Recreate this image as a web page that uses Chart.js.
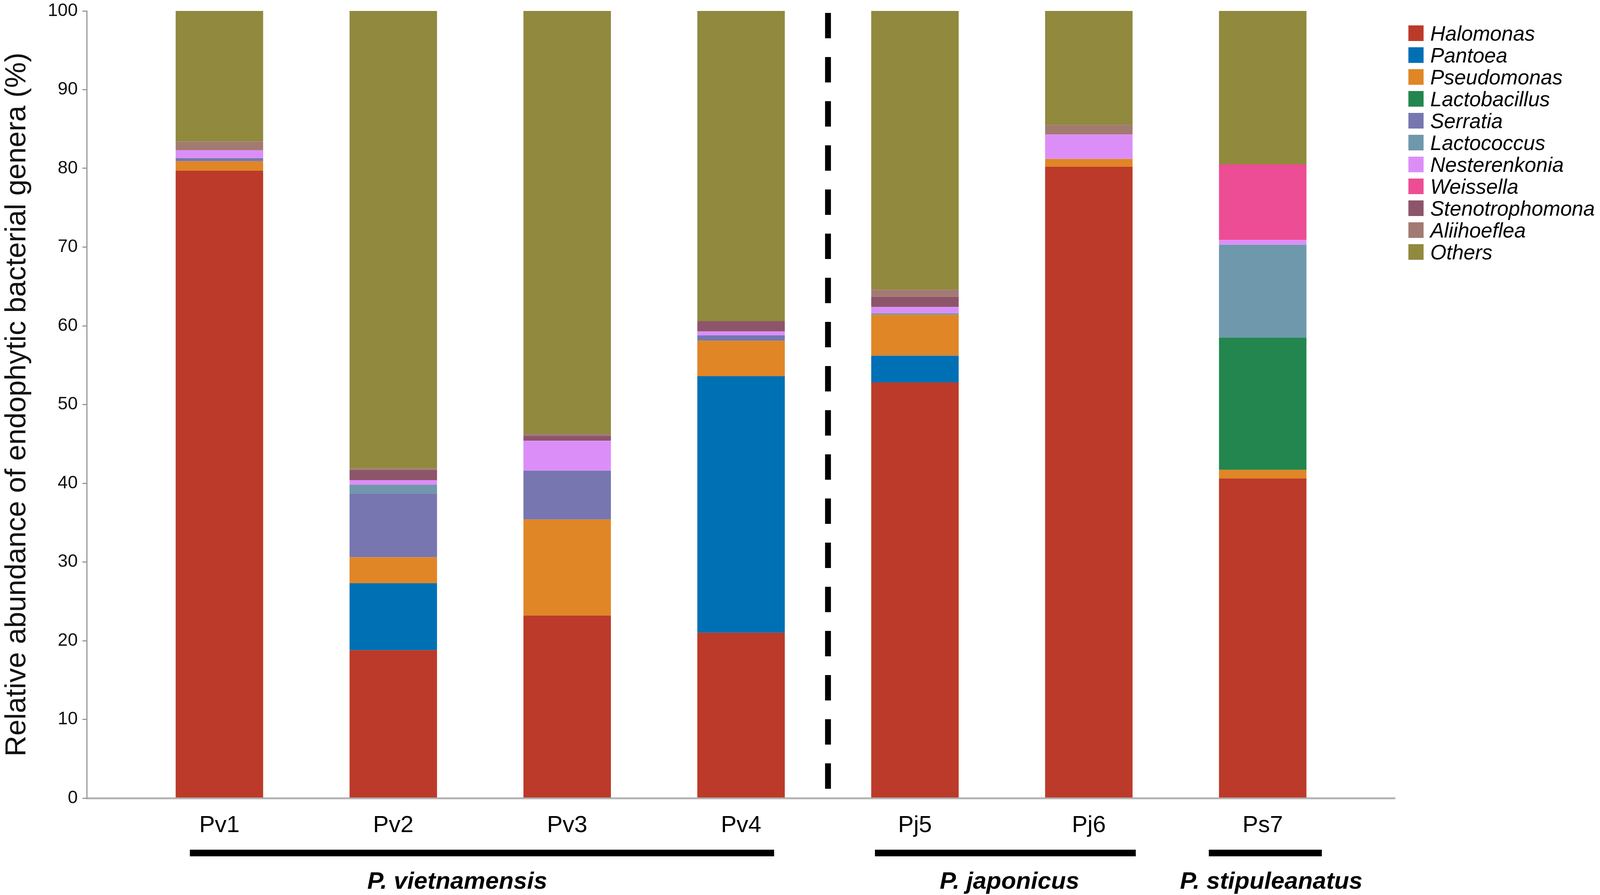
<!DOCTYPE html>
<html>
<head>
<meta charset="utf-8">
<script src="https://cdn.jsdelivr.net/npm/chart.js@4.4.1/dist/chart.umd.min.js"></script>
<style>
  html, body { margin: 0; padding: 0; background: #fff; overflow: hidden; }
  #wrap { width: 100vw; height: 100vh; }
</style>
</head>
<body>
<div id="wrap"><canvas id="myChart"></canvas></div>
<script>
var sampleLabels = ['Pv1', 'Pv2', 'Pv3', 'Pv4', 'Pj5', 'Pj6', 'Ps7'];

// relative abundance (%) per sample, bottom to top of each bar
var halomonas       = [79.7, 18.8, 23.2, 21.0, 52.8, 80.2, 40.6];
var pantoea         = [0,    8.5,  0,    32.6, 3.4,  0,    0];
var pseudomonas     = [1.2,  3.3,  12.2, 4.5,  5.2,  1.0,  1.1];
var lactobacillus   = [0,    0,    0,    0,    0,    0,    16.8];
var serratia        = [0.4,  8.1,  6.2,  0.7,  0,    0,    0];
var lactococcus     = [0,    1.1,  0,    0,    0.2,  0,    11.8];
var nesterenkonia   = [1.0,  0.6,  3.8,  0.5,  0.8,  3.1,  0.6];
var weissella       = [0,    0,    0,    0,    0,    0,    9.6];
var stenotrophomona = [0,    1.3,  0.6,  1.3,  1.3,  0,    0];
var aliihoeflea     = [1.1,  0.2,  0.3,  0,    0.9,  1.2,  0];
var others          = [16.6, 58.1, 53.7, 39.4, 35.4, 14.5, 19.5];

var genusNames = ['Halomonas', 'Pantoea', 'Pseudomonas', 'Lactobacillus', 'Serratia',
  'Lactococcus', 'Nesterenkonia', 'Weissella', 'Stenotrophomona', 'Aliihoeflea', 'Others'];
var genusValues = [halomonas, pantoea, pseudomonas, lactobacillus, serratia,
  lactococcus, nesterenkonia, weissella, stenotrophomona, aliihoeflea, others];
var genusColors = ['#bc3a29', '#0070b4', '#e08626', '#22864e', '#7776b0',
  '#6f98ac', '#dc8ef8', '#ec4d95', '#8c5569', '#a27a72', '#90893e'];

// host species groups under the x axis (indexes into sampleLabels)
var hostNames = ['P. vietnamensis', 'P. japonicus', 'P. stipuleanatus'];
var hostFirst = [0, 4, 6];
var hostLast  = [3, 5, 6];

var datasets = genusNames.map(function(name, k) {
  return {
    label: name,
    data: genusValues[k].map(function(v, i) { return { x: i + 1, y: v }; }),
    backgroundColor: genusColors[k],
    borderWidth: 0,
    barPercentage: 0.503,
    categoryPercentage: 1
  };
});

var FONT = '"Liberation Sans", Arial, sans-serif';

// layout was measured on a 4317px wide figure; scale horizontal sizes to the real width
function sx(chart) { return chart.width / 4317; }

// legend, dashed separator and species bars are drawn on top of the chart
var decorPlugin = {
  id: 'decor',
  afterDraw: function(chart) {
    var ctx = chart.ctx;
    var xs = chart.scales.x, ys = chart.scales.y;
    var k = sx(chart);
    ctx.save();

    // dashed separator between Pv4 and Pj5
    ctx.strokeStyle = '#000';
    ctx.lineWidth = 15;
    ctx.setLineDash([65, 48]);
    var dx = xs.getPixelForValue(4.5);
    ctx.beginPath();
    ctx.moveTo(dx, ys.getPixelForValue(100) + 5);
    ctx.lineTo(dx, ys.getPixelForValue(0));
    ctx.stroke();
    ctx.setLineDash([]);

    // species bars and names
    var padL = [0.17, 0.23, 0.31];
    var padR = [0.19, 0.27, 0.34];
    var nameAt = [2.368, 5.544, 7.049];
    ctx.fillStyle = '#000';
    ctx.font = 'italic bold 62px ' + FONT;
    ctx.textAlign = 'center';
    ctx.textBaseline = 'alphabetic';
    hostNames.forEach(function(name, g) {
      var x0 = xs.getPixelForValue(hostFirst[g] + 1 - padL[g]);
      var x1 = xs.getPixelForValue(hostLast[g] + 1 + padR[g]);
      ctx.fillRect(x0, 2175, x1 - x0, 17);
      ctx.fillText(name, xs.getPixelForValue(nameAt[g]), 2275);
    });

    // legend
    ctx.font = 'italic 53px ' + FONT;
    ctx.textAlign = 'left';
    chart.data.datasets.forEach(function(ds, i) {
      var cy = 85 + i * 56;
      ctx.fillStyle = ds.backgroundColor;
      ctx.fillRect(3800 * k, cy - 20, 41 * k, 40);
      ctx.fillStyle = '#000';
      ctx.fillText(ds.label, 3859 * k, cy + 19);
    });
    ctx.restore();
  }
};

var ctx = document.getElementById('myChart').getContext('2d');
var myChart = new Chart(ctx, {
  type: 'bar',
  data: { datasets: datasets },
  plugins: [decorPlugin],
  options: {
    responsive: true,
    maintainAspectRatio: false,
    devicePixelRatio: 1,
    animation: false,
    layout: {
      padding: function(c) {
        return { top: 28, right: c.chart.width - 3764 * sx(c.chart), left: 0, bottom: 0 };
      }
    },
    plugins: {
      legend: { display: false },
      tooltip: { enabled: false }
    },
    scales: {
      x: {
        type: 'linear',
        stacked: true,
        offset: false,
        min: 0.237,
        max: 7.761,
        afterFit: function(scale) { scale.height = 248; },
        afterBuildTicks: function(scale) {
          scale.ticks = sampleLabels.map(function(l, i) { return { value: i + 1 }; });
        },
        grid: { display: true, offset: false, drawOnChartArea: false, drawTicks: false },
        border: { color: '#b4b4b4', width: 5 },
        ticks: {
          autoSkip: false,
          maxRotation: 0,
          padding: 34,
          color: '#000',
          font: { family: FONT, size: 60 },
          callback: function(value) { return sampleLabels[value - 1]; }
        }
      },
      y: {
        stacked: true,
        min: 0,
        max: 100,
        afterFit: function(scale) {
          scale.width = 234 * sx(scale.chart);
          scale.paddingTop = 0;
          scale.paddingBottom = 0;
        },
        grid: { drawOnChartArea: false, drawTicks: true, tickLength: 11, color: '#999', lineWidth: 3 },
        border: { color: '#999', width: 3 },
        ticks: {
          stepSize: 10,
          padding: 12,
          color: '#111',
          font: { family: FONT, size: 46 }
        },
        title: {
          display: true,
          text: 'Relative abundance of endophytic bacterial genera (%)',
          color: '#111',
          font: { family: FONT, size: 74 },
          padding: { top: 0, bottom: 0 }
        }
      }
    }
  }
});
</script>
</body>
</html>
